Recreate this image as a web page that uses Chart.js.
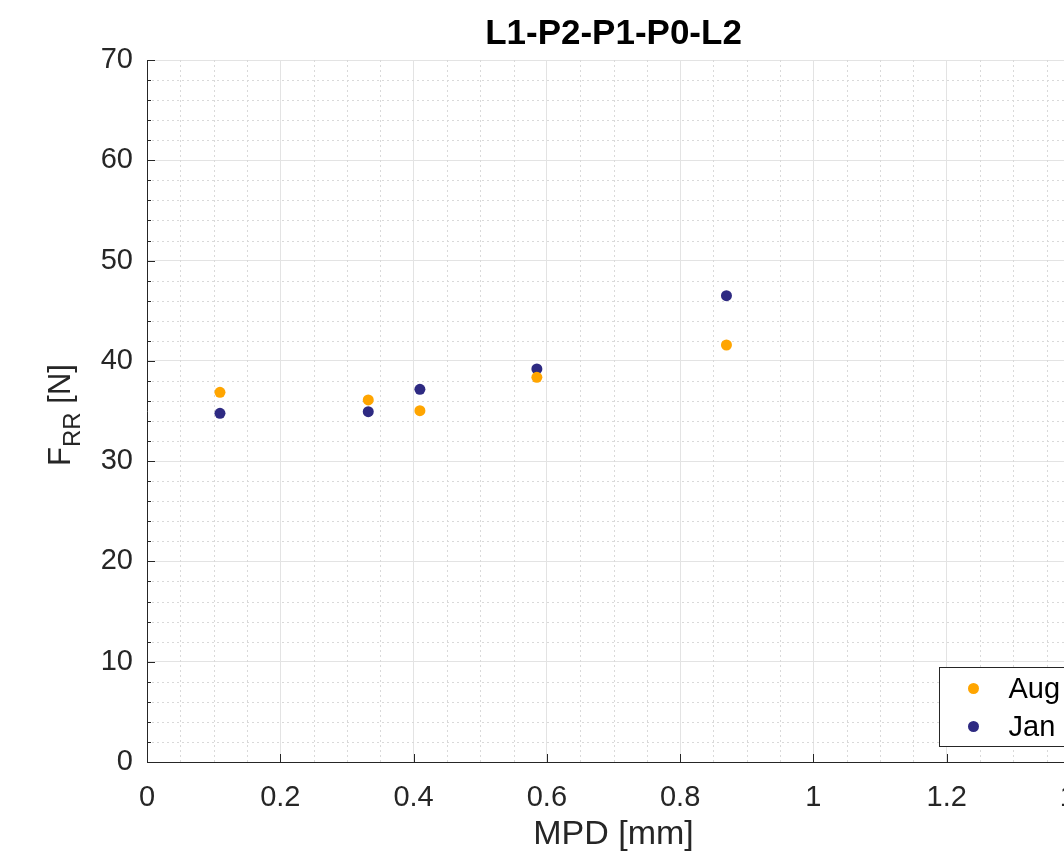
<!DOCTYPE html>
<html>
<head>
<meta charset="utf-8">
<title>L1-P2-P1-P0-L2</title>
<script src="https://cdn.jsdelivr.net/npm/chart.js@4"></script>
<style>
  html, body { margin: 0; padding: 0; background: #fff; overflow: hidden; }
  #wrap { width: 1120px; height: 855px; }
</style>
</head>
<body>
<div id="wrap"><canvas id="frrChart" width="1120" height="855"></canvas></div>
<script>
const mpd = [0.1095, 0.332, 0.4095, 0.585, 0.8695];
const frrAug = [36.86, 36.1, 35.03, 38.36, 41.58];
const frrJan = [34.77, 34.93, 37.16, 39.19, 46.5];
const seriesNames = ['Aug', 'Jan'];
const seriesColors = ['#FFA500', '#2E2A82'];
const chartTitle = 'L1-P2-P1-P0-L2';

const FONT = "'Liberation Sans', Arial, Helvetica, sans-serif";
const AXIS_COLOR = '#262626';

// dotted minor grid, inward ticks, title, y label and legend (MATLAB look)
const axesDecor = {
    id: 'axesDecor',
    beforeDatasetsDraw(chart) {
        const { ctx, chartArea: a, scales: { x, y } } = chart;
        ctx.save();
        ctx.strokeStyle = '#d9d9d9';
        ctx.lineWidth = 1;
        ctx.setLineDash([2, 3]);
        for (let v = 0.05; v < x.max; v += 0.05) {
            if (Math.abs(v / 0.2 - Math.round(v / 0.2)) < 1e-6) continue;
            const px = Math.round(x.getPixelForValue(v)) + 0.5;
            ctx.beginPath(); ctx.moveTo(px, a.top); ctx.lineTo(px, a.bottom); ctx.stroke();
        }
        for (let v = 2; v < y.max; v += 2) {
            if (v % 10 === 0) continue;
            const py = Math.round(y.getPixelForValue(v)) + 0.5;
            ctx.beginPath(); ctx.moveTo(a.left, py); ctx.lineTo(a.right, py); ctx.stroke();
        }
        ctx.restore();
    },
    afterDraw(chart) {
        const { ctx, chartArea: a, scales: { x, y } } = chart;
        ctx.save();
        ctx.strokeStyle = AXIS_COLOR;
        ctx.lineWidth = 1;
        x.ticks.forEach(t => {
            const px = Math.round(x.getPixelForValue(t.value)) + 0.5;
            ctx.beginPath(); ctx.moveTo(px, a.bottom); ctx.lineTo(px, a.bottom - 8); ctx.stroke();
        });
        for (let v = 0; v <= y.max; v += 2) {
            const py = Math.round(y.getPixelForValue(v)) + 0.5;
            const len = v % 10 === 0 ? 8 : 4;
            ctx.beginPath(); ctx.moveTo(a.left, py); ctx.lineTo(a.left + len, py); ctx.stroke();
        }

        // title, centred over the axes
        ctx.fillStyle = '#000';
        ctx.font = 'bold 35px ' + FONT;
        ctx.textAlign = 'center';
        ctx.textBaseline = 'middle';
        ctx.fillText(chartTitle, (a.left + a.right) / 2, 34);

        // y axis title with subscript: F_RR [N]
        ctx.fillStyle = AXIS_COLOR;
        ctx.textBaseline = 'alphabetic';
        ctx.textAlign = 'left';
        const big = '31px ' + FONT, small = '24px ' + FONT;
        ctx.font = big;
        const wF = ctx.measureText('F').width;
        const wN = ctx.measureText(' [N]').width;
        ctx.font = small;
        const wRR = ctx.measureText('RR').width;
        const total = wF + wRR + wN;
        ctx.translate(70, (a.top + a.bottom) / 2 + 4);
        ctx.rotate(-Math.PI / 2);
        let cx = -total / 2;
        ctx.font = big; ctx.fillText('F', cx, 0); cx += wF;
        ctx.font = small; ctx.fillText('RR', cx, 10); cx += wRR;
        ctx.font = big; ctx.fillText(' [N]', cx, 0);
        ctx.restore();

        // legend box, inside the axes at the lower right
        const bw = 134, bh = 79;
        const bx = Math.round(a.right - 7 - bw) + 0.5;
        const by = Math.round(a.bottom - 16 - bh) + 0.5;
        ctx.save();
        ctx.fillStyle = '#fff';
        ctx.fillRect(bx, by, bw, bh);
        ctx.strokeStyle = AXIS_COLOR;
        ctx.lineWidth = 1;
        ctx.strokeRect(bx, by, bw, bh);
        ctx.font = '29px ' + FONT;
        ctx.textBaseline = 'middle';
        ctx.textAlign = 'left';
        seriesNames.forEach((name, i) => {
            const ly = by + 21 + i * 38;
            ctx.fillStyle = seriesColors[i];
            ctx.beginPath(); ctx.arc(bx + 34, ly, 5.5, 0, Math.PI * 2); ctx.fill();
            ctx.fillStyle = '#000';
            ctx.fillText(name, bx + 69, ly + 1);
        });
        ctx.restore();
    }
};

new Chart(document.getElementById('frrChart'), {
    type: 'scatter',
    data: {
        datasets: [
            {
                label: seriesNames[0],
                data: mpd.map((v, i) => ({ x: v, y: frrAug[i] })),
                backgroundColor: seriesColors[0],
                borderWidth: 0,
                pointRadius: 5.5,
            },
            {
                label: seriesNames[1],
                data: mpd.map((v, i) => ({ x: v, y: frrJan[i] })),
                backgroundColor: seriesColors[1],
                borderWidth: 0,
                pointRadius: 5.5,
            }
        ]
    },
    options: {
        responsive: false,
        animation: false,
        layout: { padding: { left: 0, right: 40, top: 60, bottom: 0 } },
        plugins: {
            legend: { display: false },
            tooltip: { enabled: false },
            title: { display: false }
        },
        scales: {
            x: {
                type: 'linear',
                min: 0, max: 1.4,
                ticks: {
                    stepSize: 0.2,
                    padding: 19,
                    color: AXIS_COLOR,
                    font: { family: FONT, size: 29 },
                    maxRotation: 0,
                    callback: v => String(Math.round(v * 10) / 10)
                },
                grid: { color: '#e3e3e3', drawTicks: false },
                border: { display: true, color: AXIS_COLOR, width: 1 },
                title: {
                    display: true,
                    text: 'MPD [mm]',
                    color: AXIS_COLOR,
                    font: { family: FONT, size: 34 },
                    padding: { top: 0, bottom: 0 }
                },
                afterFit(scale) { scale.height = 93; }
            },
            y: {
                min: 0, max: 70,
                ticks: {
                    stepSize: 10,
                    padding: 14,
                    color: AXIS_COLOR,
                    font: { family: FONT, size: 29 }
                },
                grid: { color: '#e3e3e3', drawTicks: false },
                border: { display: true, color: AXIS_COLOR, width: 1 },
                afterFit(scale) { scale.width = 147; }
            }
        }
    },
    plugins: [axesDecor]
});
</script>
</body>
</html>
